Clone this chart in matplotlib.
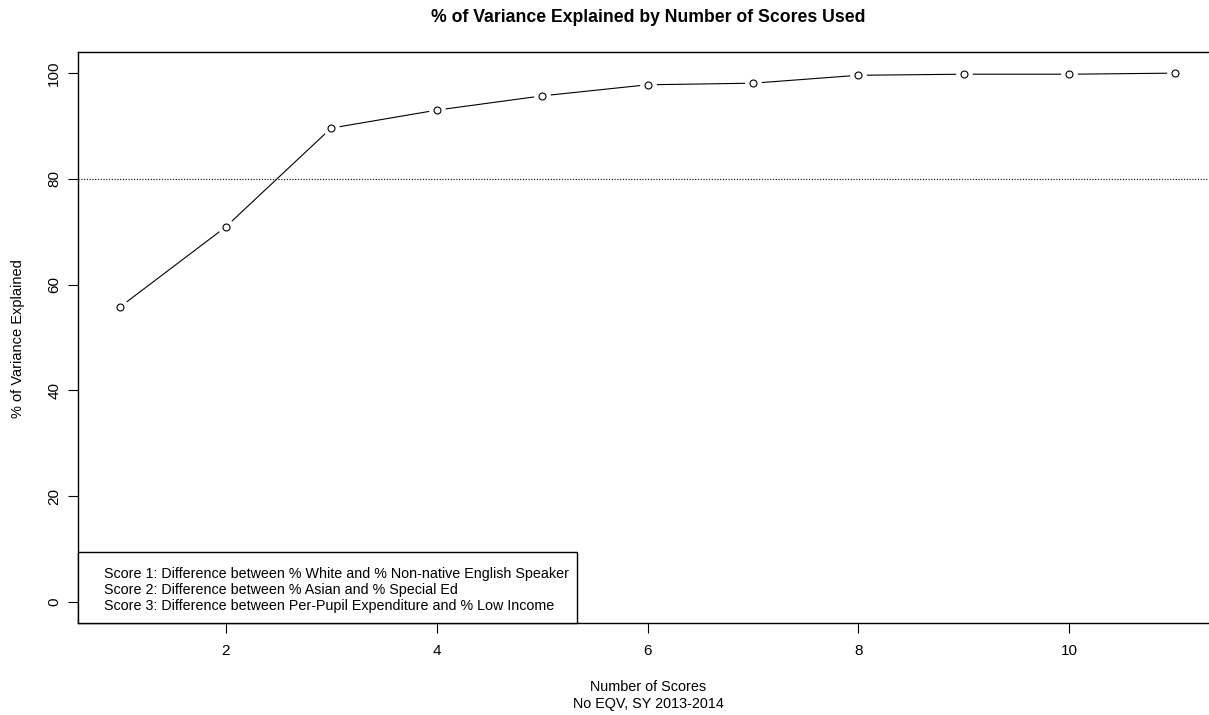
import matplotlib
matplotlib.use("Agg")
import matplotlib.pyplot as plt
from matplotlib.patches import Rectangle

plt.rcParams['font.family'] = ['Liberation Sans', 'DejaVu Sans']

n_scores = [1, 2, 3, 4, 5, 6, 7, 8, 9, 10, 11]
pct_var = [55.8, 70.9, 89.6, 93.0, 95.7, 97.8, 98.1, 99.6, 99.8, 99.8, 100.0]
threshold = 80
x_ticks = [2, 4, 6, 8, 10]
y_ticks = [0, 20, 40, 60, 80, 100]
legend_lines = [
    "Score 1: Difference between % White and % Non-native English Speaker",
    "Score 2: Difference between % Asian and % Special Ed",
    "Score 3: Difference between Per-Pupil Expenditure and % Low Income",
]

W, H = 1209, 715
fig = plt.figure(figsize=(W / 100, H / 100), dpi=100)
left, right, top, bottom = 78, 1217, 52, 623
ax = fig.add_axes([left / W, 1 - bottom / H, (right - left) / W, (bottom - top) / H])

ax.plot(n_scores, pct_var, color='black', lw=0.8, zorder=2)
ax.plot(n_scores, pct_var, ls='none', marker='o', ms=11, mfc='white', mec='white', zorder=3)
ax.plot(n_scores, pct_var, ls='none', marker='o', ms=5, mfc='white', mec='black', mew=0.8, zorder=4)
ax.axhline(threshold, color='black', lw=0.8, ls=(0, (1, 1.5)), zorder=1)

ax.set_xlim(0.6, 11.4)
ax.set_ylim(-4, 104)
ax.set_xticks(x_ticks)
ax.set_yticks(y_ticks)
ax.tick_params(axis='both', direction='out', length=7, width=0.8, labelsize=11)
ax.tick_params(axis='x', pad=8)
ax.tick_params(axis='y', pad=5)
for lbl in ax.get_yticklabels():
    lbl.set_rotation(90)
    lbl.set_va('center')
for s in ax.spines.values():
    s.set_linewidth(1.0)

cx = 648 / W
fig.text(cx, 1 - 18 / H, "% of Variance Explained by Number of Scores Used",
         ha='center', va='center', fontsize=12.7, fontweight='bold')
fig.text(cx, 1 - 687 / H, "Number of Scores", ha='center', va='center', fontsize=10.4)
fig.text(cx, 1 - 704 / H, "No EQV, SY 2013-2014", ha='center', va='center', fontsize=10.4)
fig.text(18 / W, 1 - 339 / H, "% of Variance Explained", ha='center', va='center', rotation=90, fontsize=10.5)

# legend box
bx0, bx1, by0, by1 = 78, 577, 552, 623
fig.patches.append(Rectangle((bx0 / W, 1 - by1 / H), (bx1 - bx0) / W, (by1 - by0) / H,
                             transform=fig.transFigure, fill=True, facecolor='white',
                             edgecolor='black', lw=1.0, zorder=5))
for i, t in enumerate(legend_lines):
    fig.text(104 / W, 1 - (574 + 16 * i) / H, t, ha='left', va='center', fontsize=10.3, zorder=6)

fig.savefig("out.png", dpi=100)
